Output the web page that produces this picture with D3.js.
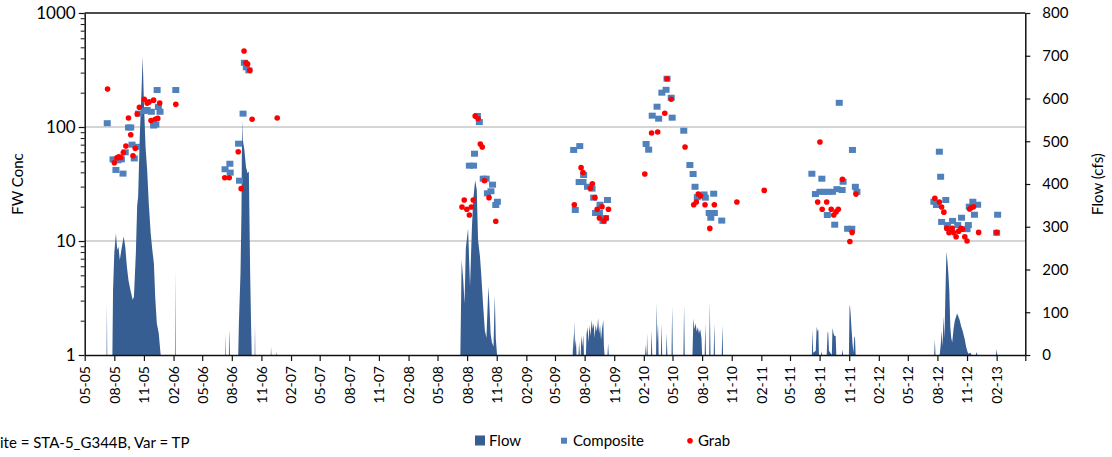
<!DOCTYPE html>
<html><head><meta charset="utf-8">
<script src="https://cdn.jsdelivr.net/npm/d3@7"></script>
<style>
body{margin:0;background:#fff}
svg{display:block}
text{font-family:Lato,"Open Sans",sans-serif;fill:#000}
</style>
</head><body>
<svg id="chart" width="1112" height="457"></svg>
<script>
// ---------- data ----------
const concTicks = [1, 10, 100, 1000];
const concMinorTicks = [2,3,4,5,6,7,8,9,20,30,40,50,60,70,80,90,200,300,400,500,600,700,800,900];
const flowTicks = [0, 100, 200, 300, 400, 500, 600, 700, 800];
const dateRange = ["2005-05-01", "2013-05-01"];
const seriesNames = ["Flow", "Composite", "Grab"];
const leftTitle = "FW Conc";
const rightTitle = "Flow (cfs)";
const siteLabel = "Site = STA-5_G344B, Var = TP";

const composite = [
  ["2005-07-10",108],["2005-07-28",52],["2005-08-06",42],["2005-08-12",51],["2005-08-23",52],["2005-08-28",39],
  ["2005-09-04",60],["2005-09-14",99],["2005-09-21",99],["2005-09-25",70],["2005-10-02",53],["2005-10-09",67],
  ["2005-10-15",131],["2005-11-02",138],["2005-11-11",141],["2005-11-24",136],["2005-12-01",103],["2005-12-08",105],
  ["2005-12-12",211],["2005-12-16",150],["2005-12-21",136],["2006-02-08",211],
  ["2006-07-11",42.6],["2006-07-26",47.6],["2006-07-27",39.8],["2006-08-22",71.4],["2006-08-25",33.8],["2006-09-05",131],
  ["2006-09-09",366],["2006-09-15",334],["2006-09-23",314],
  ["2008-08-08",45.8],["2008-08-21",45.8],["2008-08-24",58.3],["2008-09-02",125],["2008-09-08",110.5],["2008-09-20",35.2],
  ["2008-09-29",35.2],["2008-10-03",26.2],["2008-10-14",27.3],["2008-10-19",31.2],["2008-10-29",20.7],["2008-11-03",22.1],
  ["2009-06-28",62.9],["2009-07-17",68],["2009-07-03",18.7],["2009-07-29",37.9],["2009-07-15",32.9],["2009-07-27",32.9],
  ["2009-08-10",29.9],["2009-08-24",28.8],["2009-08-29",24],["2009-10-11",22.9],["2009-09-18",20.8],["2009-09-04",17.6],
  ["2009-09-16",17.6],["2009-09-27",15],["2009-10-05",15.9],
  ["2010-02-08",71],["2010-02-16",63.2],["2010-02-27",125.7],["2010-03-19",118.3],["2010-03-14",150.7],["2010-03-29",200],
  ["2010-04-11",212],["2010-04-14",265],["2010-04-27",180.6],["2010-04-30",120.7],["2010-06-05",92.8],["2010-06-24",46.4],
  ["2010-07-04",38.7],["2010-07-10",29.9],["2010-07-17",24.2],["2010-07-29",25.3],["2010-08-11",24],["2010-08-07",25.6],
  ["2010-09-06",26],["2010-08-23",17.6],["2010-09-08",17.6],["2010-08-28",16],["2010-10-01",15.1],
  ["2011-10-01",163],["2011-11-11",62.9],["2011-07-08",38.9],["2011-08-08",35.2],["2011-07-19",25.8],["2011-08-02",27],
  ["2011-08-15",27],["2011-08-27",27],["2011-09-10",27],["2011-09-24",28.5],["2011-10-10",28],["2011-10-13",33.1],
  ["2011-11-20",29.9],["2011-11-25",27],["2011-08-25",16.9],["2011-09-17",13.9],["2011-10-27",12.8],["2011-11-09",12.8],
  ["2012-08-07",60.7],["2012-08-11",36.6],["2012-07-21",22.1],["2012-07-29",20.7],["2012-08-27",22.9],["2012-08-14",14.7],
  ["2012-09-01",13.8],["2012-09-17",15],["2012-10-03",13.8],["2012-10-15",16],["2012-11-05",13.8],["2012-11-01",12.7],
  ["2012-11-08",20],["2012-11-19",22.1],["2012-12-04",20.8],["2012-11-24",17],["2013-02-04",17],["2013-02-01",11.8]
];

const grab = [
  ["2005-07-11",215],["2005-08-01",48.6],["2005-08-09",53.6],["2005-08-15",54.8],["2005-08-21",54],["2005-08-29",59.6],
  ["2005-09-06",68],["2005-09-14",120],["2005-09-21",85.6],["2005-09-28",56],["2005-10-05",65],["2005-10-11",130],
  ["2005-10-18",149],["2005-11-02",175],["2005-11-11",162],["2005-11-17",166],["2005-11-23",114],["2005-12-01",172],
  ["2005-12-06",117],["2005-12-14",119],["2005-12-20",162],["2006-02-08",158],
  ["2006-07-10",35.9],["2006-07-24",35.9],["2006-08-21",60.7],["2006-08-30",28.8],["2006-09-08",464],["2006-09-14",366],
  ["2006-09-19",357],["2006-09-26",314],["2006-10-03",117],["2006-12-20",120],
  ["2008-07-16",19.9],["2008-07-23",22.9],["2008-07-31",19],["2008-08-08",16.9],["2008-08-14",19.9],["2008-08-20",22.9],
  ["2008-08-26",125],["2008-09-04",118],["2008-09-11",71],["2008-09-17",66.8],["2008-09-24",33.8],["2008-10-08",24],
  ["2008-10-29",14.9],
  ["2009-06-30",20.8],["2009-07-21",44],["2009-07-27",39.8],["2009-08-25",31.8],["2009-08-19",29],["2009-09-02",24],
  ["2009-09-09",19],["2009-09-24",20],["2009-09-16",15.9],["2009-09-30",15],["2009-10-07",15.9],["2009-10-14",19],
  ["2010-02-04",38.7],["2010-02-25",88.6],["2010-03-16",90.4],["2010-04-07",132],["2010-04-14",265],["2010-04-27",175],
  ["2010-06-09",66.8],["2010-07-20",25.8],["2010-07-27",24.8],["2010-07-14",22],["2010-07-06",20.8],["2010-08-10",20.8],
  ["2010-09-08",20.8],["2010-08-25",12.9],["2010-11-17",22],["2011-02-10",27.8],
  ["2011-08-02",73.8],["2011-10-11",34.8],["2011-11-22",25.8],["2011-07-26",22],["2011-08-23",22],["2011-08-09",19],
  ["2011-09-06",19],["2011-09-28",19],["2011-09-21",18],["2011-09-14",16.9],["2011-11-10",11.9],["2011-11-03",9.9],
  ["2012-07-24",23.7],["2012-08-07",22],["2012-08-14",19.9],["2012-08-21",17.9],["2012-08-30",12.9],["2012-09-08",12.5],
  ["2012-09-16",12.9],["2012-09-21",11.8],["2012-09-06",11.8],["2012-09-28",10.9],["2012-10-06",12.2],["2012-10-13",12.9],
  ["2012-10-18",12.7],["2012-10-25",10.9],["2012-11-01",10],["2012-11-09",19.1],["2012-11-14",19.7],["2012-11-21",20],
  ["2012-12-07",11.9],["2013-02-01",11.9]
];

const flow = [
  ["2005-05-01",0],["2005-07-08",0],["2005-07-09",121],["2005-07-10",0],
  ["2005-07-26",0],["2005-07-28",150],["2005-08-01",240],["2005-08-06",285],["2005-08-10",246],["2005-08-14",253],
  ["2005-08-18",222],["2005-08-23",246],["2005-08-30",277],["2005-09-04",253],["2005-09-09",207],["2005-09-14",175],
  ["2005-09-20",152],["2005-09-27",129],["2005-10-01",136],["2005-10-07",240],["2005-10-11",350],["2005-10-14",370],
  ["2005-10-19",510],["2005-10-25",628],["2005-10-28",698],["2005-11-01",589],["2005-11-06",487],["2005-11-11",433],
  ["2005-11-16",355],["2005-11-22",285],["2005-11-27",246],["2005-12-02",214],["2005-12-06",136],["2005-12-11",74],
  ["2005-12-17",51],["2005-12-23",0],
  ["2006-02-06",0],["2006-02-07",200],["2006-02-08",0],
  ["2006-07-12",0],["2006-07-13",50],["2006-07-14",0],["2006-07-23",0],["2006-07-24",58],["2006-07-25",40],["2006-07-26",0],
  ["2006-08-21",0],["2006-08-23",75],["2006-08-28",192],["2006-08-31",332],["2006-09-02",550],["2006-09-04",503],
  ["2006-09-09",480],["2006-09-14",440],["2006-09-19",425],["2006-09-23",429],["2006-09-27",192],["2006-09-30",66],
  ["2006-10-02",0],["2006-10-11",0],["2006-10-12",75],["2006-10-13",0],
  ["2006-11-30",0],["2006-12-01",19],["2006-12-02",0],["2006-12-17",0],["2006-12-18",8],["2006-12-19",0],
  ["2008-07-11",0],["2008-07-15",222],["2008-07-20",175],["2008-07-24",120],["2008-07-28",250],["2008-08-04",296],
  ["2008-08-10",160],["2008-08-16",300],["2008-08-20",363],["2008-08-26",409],["2008-08-31",386],["2008-09-04",269],
  ["2008-09-10",230],["2008-09-15",175],["2008-09-20",113],["2008-09-25",58],["2008-09-30",40],["2008-10-06",160],
  ["2008-10-09",121],["2008-10-13",50],["2008-10-17",30],["2008-10-22",20],["2008-10-26",140],["2008-10-29",40],
  ["2008-11-02",0],
  ["2009-06-25",0],["2009-06-27",51],["2009-06-29",10],["2009-07-01",78],["2009-07-03",20],["2009-07-05",35],["2009-07-07",0],
  ["2009-07-13",0],["2009-07-15",31],["2009-07-17",0],["2009-07-20",0],["2009-07-22",47],["2009-07-25",20],["2009-07-28",47],
  ["2009-07-30",0],["2009-08-05",0],["2009-08-07",50],["2009-08-10",65],["2009-08-13",30],["2009-08-16",70],["2009-08-19",45],
  ["2009-08-23",82],["2009-08-26",60],["2009-08-29",75],["2009-09-01",40],["2009-09-04",70],["2009-09-08",55],["2009-09-12",86],
  ["2009-09-15",50],["2009-09-18",70],["2009-09-21",35],["2009-09-24",60],["2009-09-28",82],["2009-09-30",20],["2009-10-02",0],
  ["2009-10-11",0],["2009-10-13",27],["2009-10-15",0],
  ["2010-02-05",0],["2010-02-07",24],["2010-02-09",0],["2010-02-10",0],["2010-02-11",51],["2010-02-13",0],
  ["2010-02-23",0],["2010-02-25",58],["2010-02-27",0],["2010-03-11",0],["2010-03-13",121],["2010-03-15",30],["2010-03-17",74],
  ["2010-03-19",0],["2010-03-26",0],["2010-03-28",74],["2010-03-30",0],["2010-04-11",0],["2010-04-13",51],["2010-04-15",0],
  ["2010-04-28",0],["2010-04-30",113],["2010-05-02",0],["2010-06-04",0],["2010-06-06",117],["2010-06-08",0],
  ["2010-07-02",0],["2010-07-05",86],["2010-07-08",60],["2010-07-12",74],["2010-07-15",55],["2010-07-19",65],["2010-07-22",51],
  ["2010-07-26",60],["2010-07-30",40],["2010-08-01",0],["2010-08-09",0],["2010-08-11",74],["2010-08-13",0],
  ["2010-08-23",0],["2010-08-25",125],["2010-08-27",0],["2010-09-06",0],["2010-09-08",74],["2010-09-10",0],
  ["2010-10-01",0],["2010-10-03",70],["2010-10-05",0],
  ["2011-07-08",0],["2011-07-10",60],["2011-07-12",5],["2011-07-20",10],["2011-07-23",66],["2011-07-26",55],["2011-07-28",60],
  ["2011-07-30",0],["2011-08-05",0],["2011-08-07",8],["2011-08-09",0],["2011-08-23",0],["2011-08-26",55],["2011-08-28",51],
  ["2011-08-30",10],["2011-09-08",0],["2011-09-10",63],["2011-09-13",51],["2011-09-16",45],["2011-09-20",44],["2011-09-22",0],
  ["2011-10-09",0],["2011-10-11",12],["2011-10-13",0],["2011-10-31",0],["2011-11-02",110],["2011-11-03",118],["2011-11-05",100],
  ["2011-11-08",63],["2011-11-11",30],["2011-11-14",5],["2011-11-17",44],["2011-11-19",40],["2011-11-21",0],
  ["2012-07-22",0],["2012-07-24",36],["2012-07-26",0],["2012-08-08",0],["2012-08-12",30],["2012-08-14",58],["2012-08-17",20],
  ["2012-08-20",90],["2012-08-23",40],["2012-08-26",150],["2012-08-29",242],["2012-09-01",220],["2012-09-04",190],
  ["2012-09-07",150],["2012-09-10",66],["2012-09-13",40],["2012-09-16",30],["2012-09-20",60],["2012-09-24",80],
  ["2012-10-01",97],["2012-10-05",90],["2012-10-09",82],["2012-10-14",66],["2012-10-18",58],["2012-10-22",45],
  ["2012-10-25",36],["2012-10-29",20],["2012-11-02",9],["2012-11-05",3],["2012-11-12",5],["2012-11-15",0],
  ["2012-11-28",0],["2012-12-01",7],["2012-12-03",0],["2013-01-30",0],["2013-02-01",14],["2013-02-03",0],["2013-05-01",0]
];

// ---------- chart ----------
const parse = d3.utcParse("%Y-%m-%d");
const plot = {left: 84.7, right: 1025.3, top: 13, bottom: 355};
const svg = d3.select("#chart");

const x = d3.scaleUtc().domain(dateRange.map(parse)).range([plot.left, plot.right]);
const yL = d3.scaleLog().domain([1, 1000]).range([plot.bottom, plot.top]);
const yR = d3.scaleLinear().domain([0, 800]).range([plot.bottom, plot.top]);

const flowColor = "#375E93", compColor = "#4F81BD", grabColor = "#FF0000";

// gridlines
svg.append("g").selectAll("line").data(concTicks.filter(d => d > 1 && d < 1000)).join("line")
  .attr("x1", plot.left).attr("x2", plot.right)
  .attr("y1", d => yL(d)).attr("y2", d => yL(d))
  .attr("stroke", "#C6C6C6").attr("stroke-width", 1.5);

// flow area
const flowData = flow.map(d => ({date: parse(d[0]), v: d[1]})).sort((a, b) => a.date - b.date);
svg.append("path").datum(flowData)
  .attr("fill", flowColor)
  .attr("d", d3.area().x(d => x(d.date)).y0(yR(0)).y1(d => yR(d.v)));

// composite squares
const sqW = 7, sqH = 6;
svg.append("g").selectAll("rect").data(composite).join("rect")
  .attr("x", d => x(parse(d[0])) - sqW / 2)
  .attr("y", d => yL(d[1]) - sqH / 2)
  .attr("width", sqW).attr("height", sqH)
  .attr("fill", compColor);

// grab dots
svg.append("g").selectAll("circle").data(grab).join("circle")
  .attr("cx", d => x(parse(d[0])))
  .attr("cy", d => yL(d[1]))
  .attr("r", 2.8)
  .attr("fill", grabColor);

// frame top
svg.append("line").attr("x1", plot.left).attr("x2", plot.right)
  .attr("y1", plot.top).attr("y2", plot.top).attr("stroke", "#111").attr("stroke-width", 1.5);

// left axis
const leftAxis = svg.append("g").attr("transform", `translate(${plot.left},0)`)
  .call(d3.axisLeft(yL).tickValues(concTicks).tickFormat(d3.format("d")).tickSize(6).tickPadding(3).tickSizeOuter(0));
const minorAxis = svg.append("g").attr("transform", `translate(${plot.left},0)`)
  .call(d3.axisLeft(yL).tickValues(concMinorTicks).tickFormat("").tickSize(4).tickSizeOuter(0))
  .call(g => g.select(".domain").remove());
minorAxis.selectAll(".tick line").attr("stroke", "#111");

// right axis
const rightAxis = svg.append("g").attr("transform", `translate(${plot.right},0)`)
  .call(d3.axisRight(yR).tickValues(flowTicks).tickSize(5).tickPadding(12).tickSizeOuter(0));

// bottom axis: every 3 months starting May 2005
const start = parse(dateRange[0]), end = parse(dateRange[1]);
const monthTicks = d3.range(0, 97, 3).map(k => d3.utcMonth.offset(start, k)).filter(d => d <= end);
const fmt = d3.utcFormat("%m-%y");
const bottomAxis = svg.append("g").attr("transform", `translate(0,${plot.bottom})`)
  .call(d3.axisBottom(x).tickValues(monthTicks).tickFormat(d => +d === +end ? "" : fmt(d)).tickSize(6).tickSizeOuter(0));
bottomAxis.selectAll("text")
  .attr("transform", "rotate(-90)")
  .attr("x", -11).attr("y", 0).attr("dy", "0.35em")
  .style("text-anchor", "end");

[leftAxis, rightAxis, bottomAxis].forEach(g => {
  g.selectAll(".domain").attr("stroke", "#111").attr("stroke-width", 1.5);
  g.selectAll(".tick line").attr("stroke", "#111").attr("stroke-width", 1.2);
  g.selectAll("text").attr("font-family", "Lato").attr("fill", "#000");
});
leftAxis.selectAll("text").attr("font-size", 17);
rightAxis.selectAll("text").attr("font-size", 15);
bottomAxis.selectAll("text").attr("font-size", 14);

// axis titles
svg.append("text").attr("transform", `translate(18,${(plot.top + plot.bottom) / 2}) rotate(-90)`)
  .attr("text-anchor", "middle").attr("dy", "0.35em").attr("font-size", 15).text(leftTitle);
svg.append("text").attr("transform", `translate(1098,${(plot.top + plot.bottom) / 2}) rotate(-90)`)
  .attr("text-anchor", "middle").attr("dy", "0.35em").attr("font-size", 15).text(rightTitle);

// legend
const lg = svg.append("g").attr("font-size", 15);
lg.append("rect").attr("x", 475).attr("y", 435.5).attr("width", 10).attr("height", 10).attr("fill", flowColor);
lg.append("text").attr("x", 489).attr("y", 446).text(seriesNames[0]);
lg.append("rect").attr("x", 561).attr("y", 437.7).attr("width", 6).attr("height", 6).attr("fill", compColor);
lg.append("text").attr("x", 573).attr("y", 446).text(seriesNames[1]);
lg.append("circle").attr("cx", 690).attr("cy", 440.7).attr("r", 2.8).attr("fill", grabColor);
lg.append("text").attr("x", 698).attr("y", 446).text(seriesNames[2]);

// site label (starts just off the left edge, as in the original)
const site = svg.append("text").attr("y", 448).attr("font-size", 15).text(siteLabel);
const sW = site.node().getSubStringLength(0, 1);
site.attr("x", -sW);
</script>
</body></html>
